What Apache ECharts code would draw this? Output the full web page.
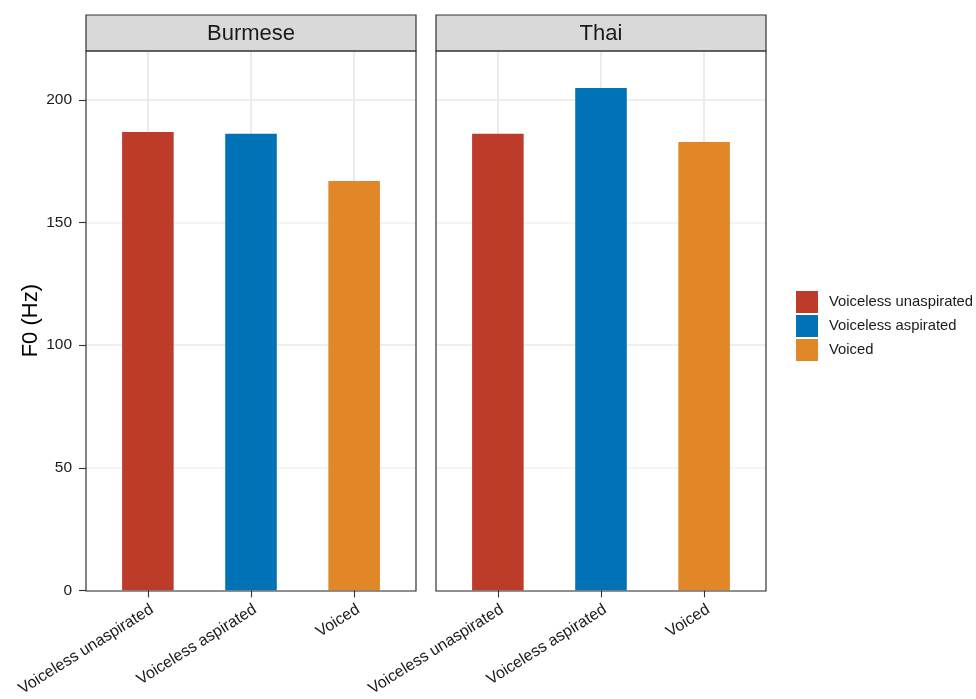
<!DOCTYPE html>
<html>
<head>
<meta charset="utf-8">
<script src="https://cdn.jsdelivr.net/npm/echarts@6/dist/echarts.min.js"></script>
<style>html,body{margin:0;padding:0;background:#fff}#c{width:976px;height:699px}</style>
</head>
<body>
<div id="c"></div>
<script>
const categories = ['Voiceless unaspirated', 'Voiceless aspirated', 'Voiced'];
const panels = ['Burmese', 'Thai'];
const burmese = [187.0, 186.2, 167.0];
const thai = [186.2, 204.9, 182.9];
const yTicks = [0, 50, 100, 150, 200];
const yTitle = 'F0 (Hz)';
const colors = ['#BC3C29', '#0072B5', '#E18727'];

const values = [burmese, thai];
const FONT = '"Liberation Sans", Arial, sans-serif';
const panelLeft = [86, 436];
const panelW = 330, panelTop = 51, panelH = 540;
const stripTop = 15, stripH = 36;
const xMin = 0.4, xMax = categories.length + 0.6;
const barW = panelW / (xMax - xMin) * 0.5;
const catIdx = categories.map((_, i) => i + 1);

const chart = echarts.init(document.getElementById('c'), null, {renderer: 'canvas'});

const grids = panels.map((_, p) => ({left: panelLeft[p], top: panelTop, width: panelW, height: panelH, containLabel: false}));

const xAxes = panels.map((_, p) => ({
  type: 'value', gridIndex: p, min: xMin, max: xMax, interval: 1,
  axisLine: {show: false},
  axisTick: {show: true, length: 7, customValues: catIdx, lineStyle: {color: '#333', width: 1.1}},
  axisLabel: {
    customValues: catIdx, rotate: 32, margin: 11, verticalAlign: 'top',
    fontFamily: FONT, fontSize: 16, color: '#1a1a1a',
    formatter: v => categories[Math.round(v) - 1] || ''
  },
  splitLine: {show: true, lineStyle: {color: '#e9e9e9', width: 1.8}}
}));

const yAxes = panels.map((_, p) => ({
  type: 'value', gridIndex: p, min: 0, max: 220, interval: 25,
  name: p === 0 ? yTitle : '', nameLocation: 'middle', nameGap: 38,
  nameTextStyle: {fontFamily: FONT, fontSize: 22, color: '#000'},
  axisLine: {show: false},
  axisTick: {show: p === 0, length: 7, customValues: yTicks, lineStyle: {color: '#333', width: 1.1}},
  axisLabel: {show: p === 0, customValues: yTicks, margin: 14, fontFamily: FONT, fontSize: 15.5, color: '#1a1a1a'},
  splitLine: {show: true, lineStyle: {color: ['#e9e9e9', '#f1f1f1'], width: 1.6}}
}));

const series = [];
panels.forEach((_, p) => {
  categories.forEach((c, i) => {
    series.push({
      type: 'bar', name: c, xAxisIndex: p, yAxisIndex: p,
      barWidth: barW, barGap: '-100%',
      itemStyle: {color: colors[i]},
      data: [[i + 1, values[p][i]]],
      animation: false
    });
  });
});

const graphics = [];
panels.forEach((name, p) => {
  graphics.push({
    type: 'rect', z: 100,
    shape: {x: panelLeft[p], y: stripTop, width: panelW, height: stripH},
    style: {fill: '#d9d9d9', stroke: '#333', lineWidth: 1.2}
  });
  graphics.push({
    type: 'text', z: 101,
    x: panelLeft[p] + panelW / 2, y: stripTop + stripH / 2 + 1,
    style: {text: name, fontFamily: FONT, fontSize: 22, fill: '#1a1a1a', align: 'center', verticalAlign: 'middle'}
  });
  graphics.push({
    type: 'rect', z: 100,
    shape: {x: panelLeft[p], y: panelTop, width: panelW, height: panelH},
    style: {fill: 'none', stroke: '#333', lineWidth: 1.2}
  });
});

chart.setOption({
  animation: false,
  backgroundColor: '#fff',
  color: colors,
  grid: grids,
  xAxis: xAxes,
  yAxis: yAxes,
  legend: {
    data: categories, orient: 'vertical', left: 791, top: 286,
    itemWidth: 22, itemHeight: 22, itemGap: 2, icon: 'rect',
    selectedMode: false,
    textStyle: {fontFamily: FONT, fontSize: 14.8, color: '#1a1a1a', padding: [0, 0, 0, 6]}
  },
  graphic: graphics,
  series: series
});
</script>
</body>
</html>
